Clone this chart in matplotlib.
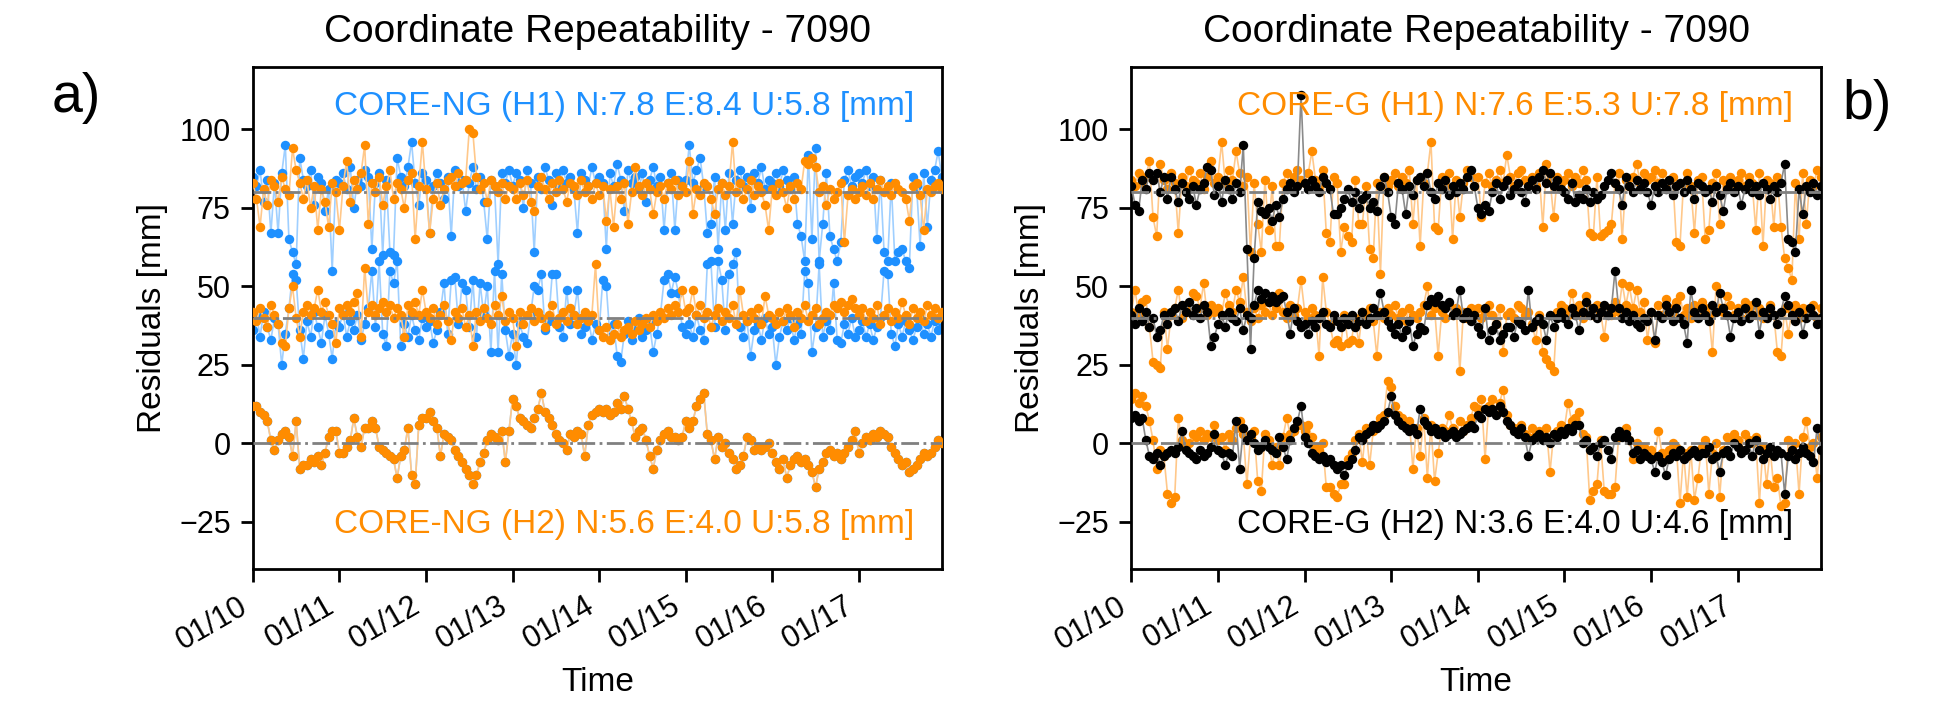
import numpy as np
import pandas as pd
import matplotlib
matplotlib.use("Agg")
import matplotlib.pyplot as plt
import matplotlib.dates as mdates
from matplotlib.ticker import MultipleLocator

plt.rcParams['font.family'] = ['Liberation Sans', 'DejaVu Sans']

# ---------------- data (hourly residuals, mm) ----------------
START = "2021-01-10 00:00"
TITLE = "Coordinate Repeatability - 7090"
LABEL_A_H1 = "CORE-NG (H1) N:7.8 E:8.4 U:5.8 [mm]"
LABEL_A_H2 = "CORE-NG (H2) N:5.6 E:4.0 U:5.8 [mm]"
LABEL_B_H1 = "CORE-G (H1) N:7.6 E:5.3 U:7.8 [mm]"
LABEL_B_H2 = "CORE-G (H2) N:3.6 E:4.0 U:4.6 [mm]"
OFFSETS = [80, 40, 0]  # N, E, U stacking offsets

# panel a) CORE-NG H1 (blue)
a_h1_n = [5, 2, 7, -3, 4, -13, 3, -13, 6, 15, -15, -19, -23, 11, 4, 2, 7, -4, 5, 3, -6, 1, -25, 4,
          3, 6, 1, 8, -5, 4, 2, 7, 5, -18, 3, 6, -20, 4, -19, -20, 11, 5, 2, 8, 16, 3, -4, 6,
          4, -13, 2, 6, 3, -2, 5, -14, 7, 2, 4, -6, 3, 8, 1, 5, -3, -15, 4, 2, -23, 6, 3, 7,
          2, 6, 4, -5, 7, 3, -19, 5, 1, 8, 4, -4, 6, 2, 7, 3, 5, 1, -13, 6, 4, 2, 8, 3,
          5, 3, -18, 6, 2, 9, 4, -6, 7, 3, 5, 1, 6, -3, 4, 8, 2, 5, -12, 3, 6, -12, 4, 2,
          4, 15, 3, 7, 11, 2, -13, -10, 5, -18, 3, -12, 6, -10, 4, 7, 2, 5, -5, 6, 3, 8, 1, 4,
          3, 6, 2, 7, 4, 1, 5, -10, -14, -22, 12, -15, 14, -22, -10, 6, -14, -18, -22, -16, 4, 7, 2, 5,
          6, 3, 7, 2, 5, -15, 4, -19, -22, 3, -22, -19, -18, -22, -24, 5, 2, -17, 6, -11, 4, 7, 13, 5]
a_h1_e = [-4, 1, -6, 2, -3, -7, 0, -2, -15, -5, 3, 14, 12, -4, -13, -1, -6, 2, -3, -8, 1, -5, -13, -2,
          -3, 2, -6, -1, -4, 1, -7, -2, 3, 15, -3, 18, -5, -9, 15, 11, 18, -9, -2, -6, 1, -4, -7, 0,
          -3, -1, -8, -4, 2, 11, -5, 12, 13, -2, 11, 9, -3, 12, -6, 11, 1, 10, -11, 15, -11, 14, -4, -12,
          -5, -15, -2, -6, -8, 1, 10, 9, 14, -4, -1, 14, 14, -3, -6, 9, -2, 1, 9, -5, -3, 0, -7, -2,
          -4, 12, 10, -6, -2, -12, -14, -5, -1, -7, -3, 0, -6, -4, -2, -11, -5, 1, 12, 14, 8, 13, 8, -3,
          -5, -2, -6, 1, -4, -7, 17, 18, -3, 18, 12, -4, 14, 17, 21, -3, -6, -1, -12, -4, -2, -7, 0, -5,
          -3, -15, -6, -1, -4, 0, -7, -2, -5, 15, 11, -11, -3, 17, -6, -1, -4, 11, -7, -8, -2, -5, 0, -6,
          -4, -1, -6, -2, -7, -3, 0, 15, 14, -5, -9, -2, -6, -1, -4, -7, -3, 0, -5, -2, -6, -1, -4, -3]
# U of H1 and H2 in panel a) coincide (blue is hidden under orange)
a_u = [12, 12, 10, 9, 7, 1, -2, 1, 3, 4, 2, -4, 7, -8, -7, -7, -5, -6, -4, -7, -3, 2, 4, 4,
       -3, -3, -1, 1, 8, 2, -1, 5, 5, 7, 5, -1, -2, -3, -4, -5, -11, -4, -2, 5, -10, -13, 6, 8,
       8, 10, 7, 5, -4, 3, 2, 1, -2, -4, -6, -8, -10, -13, -10, -6, -3, 1, 3, 2, 1, 4, -6, 4,
       14, 12, 8, 7, 6, 5, 8, 11, 16, 10, 8, 6, 3, 1, 0, -2, 3, 2, 4, 3, -4, 6, 9, 10,
       11, 10, 11, 9, 10, 13, 11, 15, 11, 7, 2, 4, 5, 1, -4, -8, -2, 1, 3, 4, 2, 2, 1, 2,
       7, 5, 7, 12, 14, 16, 3, 1, -5, 2, -1, 0, -3, -5, -8, -7, -4, 2, 1, -2, -1, -2, -1, 0,
       -3, -6, -8, -5, -11, -7, -5, -4, -6, -5, -7, -9, -14, -8, -6, -3, -2, -4, -3, -5, -3, -1, 1, 4,
       -3, 0, 2, 1, 3, 2, 4, 3, 2, -1, -3, -5, -7, -6, -9, -8, -7, -5, -3, -4, -3, -1, 1, 0]

# panel a) CORE-NG H2 (orange)
a_h2_n = [3, -2, -11, 1, -4, 4, 2, -3, 5, 1, -1, 14, 7, 3, -2, 4, -5, 2, -12, 1, -3, -11, 3, 0,
          -12, 2, 10, -3, 4, 1, 6, 15, -10, 3, 0, 5, -4, 2, 7, -2, 3, 1, -5, 4, 6, -15, 2, 16,
          1, -13, -2, 3, -4, 1, 4, 5, 2, 6, 3, 4, 20, 19, 5, 1, 3, -3, 4, 2, 0, 3, -2, 2,
          1, -2, 3, -1, 4, -3, -6, 2, 5, 1, -2, 3, 0, 4, 1, -3, 3, 2, -1, 4, 0, 2, -2, 3,
          -1, 2, -9, 1, -11, 2, -2, 3, -10, 0, 8, 2, -1, 3, 1, -7, 0, 2, -2, 3, 1, 4, -1, 2,
          0, 10, -7, 1, -1, 3, 2, -2, -7, 1, 3, -1, 2, 16, 0, 3, -2, 1, 4, -1, 2, 0, -4, -12,
          1, -1, 3, 0, -5, 2, -2, 3, 1, 10, 9, 11, 8, 0, 2, -4, 1, -2, 0, 3, -16, -1, 1, -2,
          0, 2, -1, 3, -2, 1, 4, 0, 2, -1, 3, 1, 0, -2, -9, 2, 3, -1, -12, 1, 0, 2, 3, 1]
a_h2_e = [2, -1, 3, 0, -3, 4, 1, -2, -8, -9, 3, 10, 0, -6, 2, 4, 1, 3, 9, 2, 5, 1, -2, -8,
          3, 1, 4, 2, 5, 8, -6, 16, 2, 4, 1, 3, 5, 2, 4, 0, 3, 1, -6, 4, 2, 5, 1, 9,
          2, 0, 3, -2, 1, 4, -1, -7, 2, 0, 3, -3, 1, -9, 2, -1, 3, 0, -2, 4, 1, 7, -1, 2,
          0, -9, 2, -2, 1, 3, -1, 2, 0, -3, 1, 4, -2, 0, 2, -1, 3, 1, -2, 0, 2, -1, 1, 17,
          -4, -6, -3, -7, -5, -2, -6, -4, -3, -5, -1, -4, -2, 0, -3, 1, -1, 2, 0, 3, 1, 4, 2, 9,
          2, 3, 9, 1, 4, 0, 2, -3, 1, 3, -1, 2, 0, 4, -2, 9, 1, -1, 2, 0, 3, -2, 7, 1,
          0, -2, 2, -1, 3, 1, -3, 2, 0, 4, -1, 1, 3, -2, 0, 2, 1, 4, 3, 5, 2, 4, 6, 3,
          1, 3, -1, 2, 0, 4, -2, 1, 3, -1, 2, 0, 5, 1, -2, 3, 0, 2, -1, 4, 1, 3, 0, 2]

# panel b) CORE-G H1 (orange)
b_h1_n = [4, 2, 6, 3, 5, 10, -8, -14, 9, 4, 1, 6, 3, -13, 5, 2, 7, 4, 3, 6, 1, 5, 10, 3,
          5, 16, 3, 7, 4, 13, 6, 2, 5, -19, 3, -10, -19, 4, -12, 2, -17, -17, 3, 6, 2, 5, 7, 4,
          3, 6, 13, 4, 2, 7, -13, -16, 5, 3, -19, -11, -14, -16, 4, -10, -10, 2, -18, -21, 3, -26, 5, 2,
          4, 6, 2, 5, 3, 7, -10, 4, -17, 3, 6, 16, -11, -12, 5, 2, 6, -15, 4, -8, 3, 7, 5, 2,
          5, -8, 3, 6, 2, 4, 7, 3, 12, 5, 2, 6, 7, 4, 3, 5, 2, 6, -11, 9, 4, -8, 5, 3,
          4, 6, 2, 5, 3, 7, 4, -13, -14, 5, -14, -13, -12, -10, 3, 6, -15, 4, 2, 5, 9, 3, 6, 4,
          5, 7, 3, 6, 2, 4, 5, -16, -17, 3, 6, 2, -13, 4, 5, -15, -12, 3, 6, -10, 4, 2, 5, 3,
          4, 6, 2, 5, 3, -12, 6, -17, 4, 3, -11, 5, -11, -21, -24, -28, 3, -15, 6, -10, 4, 2, 7, 5]
b_h1_e = [2, 9, 1, 5, 6, -3, -14, -15, -16, 2, -10, 1, 3, 9, 0, 4, 2, 8, 7, 3, 11, 1, 4, 2,
          3, 1, 8, 4, 2, 9, 5, 13, 2, -1, 3, 0, 4, 2, 5, 1, 3, 8, 2, 0, 4, 1, 3, 12,
          2, 0, 3, 1, -12, 13, 2, -2, -8, -7, -9, 1, -8, -7, 0, -8, 2, 1, 3, -1, -12, 2, 0, 3,
          1, 4, 0, 2, -1, 3, 1, 0, 2, 4, 10, 1, 3, -12, 2, 0, 4, 1, 3, -17, 2, 0, 3, 1,
          3, 0, 2, 4, 1, -2, 3, -11, 1, 2, 0, 4, 3, 1, 2, -2, -7, 1, -11, -13, -15, -17, 2, 4,
          3, 1, 8, 2, 4, 0, 7, 3, 1, 4, 2, -6, 3, 1, 5, 2, 11, 4, 10, 3, 9, 2, 5, -7,
          2, -8, 4, 1, 6, 3, 2, 5, 7, 1, 3, 0, 4, 2, 5, 3, 1, -11, 10, 3, 2, 7, 4, 1,
          3, 0, 5, 2, 4, 1, 3, 0, 2, 4, 1, -11, -12, 3, -5, 2, 4, 0, 3, 1, 2, 4, 0, 3]
b_h1_u = [14, 16, 13, 15, 12, 7, 1, -8, -2, -4, -16, -19, -17, 8, 1, -1, 0, 3, 2, 4, 1, 3, 2, 6,
          1, 2, -2, 3, 1, 5, 7, 3, -13, 2, 4, -12, -15, 3, 1, -7, -1, -7, 2, 8, 3, 4, 6, 6,
          4, 6, 2, -1, -2, 0, -14, -14, -16, -17, -13, -13, -5, -3, 1, 3, -6, 5, -7, 4, 6, 8, 9, 20,
          18, 12, 9, 8, 6, 7, -8, 5, -4, 8, -11, 6, -12, -3, 5, 4, 9, 5, 3, 7, 4, 6, 8, 12,
          11, 14, -5, 12, 14, 10, 13, 17, 9, 6, 5, 4, 6, 3, 2, 5, 3, 4, 2, 5, -9, 3, 4, 6,
          5, 13, 7, 8, 10, 3, 2, -18, -15, -13, 1, -15, -16, -16, -14, 2, 3, 5, 1, -5, 0, -2, -1, -3,
          -2, -4, 4, -3, -5, -2, 0, -1, -19, -3, -17, -2, -18, -11, -1, 1, -16, -3, 0, -17, -2, 2, 1, 3,
          1, -2, 3, 1, 0, 2, -19, -1, -13, -2, -14, -11, -20, -19, 1, -2, 0, -16, 2, 7, -1, 0, -11, 2]

# panel b) CORE-G H2 (black)
b_h2_n = [2, -4, -6, 4, 1, 6, 4, 6, 0, 5, -2, 5, 1, -3, 3, 0, -2, 2, -4, 1, 3, 8, 7, -1,
          2, -3, 4, 1, -2, 3, 0, 15, -18, -50, -21, -3, -6, -7, -5, -9, -4, -8, -2, 1, 3, 0, 2, 31,
          3, 1, 4, 2, 0, 5, 3, 1, -7, -7, -5, -2, 1, -3, 0, -5, -2, -1, -5, -3, -6, 2, 5, 0,
          -8, -10, 3, 1, -7, 2, -1, 4, 5, 2, 6, 0, -2, 3, 1, 4, -1, 2, 0, 3, 1, 5, 7, 2,
          -5, -7, -4, -6, 0, 3, -2, 2, 4, -1, 1, 3, 0, -3, 2, 4, 1, 5, 7, 3, 6, 2, 4, 1,
          0, -2, 3, -3, -1, -2, 1, -3, 0, -2, -1, 2, 4, 6, 3, 1, -4, 5, 2, 0, 4, 1, 3, 0,
          -4, 2, 0, 3, 1, 4, -1, 2, 3, 0, 4, 1, -2, 3, 2, 0, 1, -3, 2, -1, -6, 1, 3, 0,
          2, -4, 1, 3, 0, 2, -1, 3, 1, -2, 2, 0, 3, 9, -15, -16, -19, 1, -7, 2, 0, 3, -1, 2]
b_h2_e = [1, -2, 3, -1, 2, -3, 0, -6, -4, 1, -2, 2, 3, -1, 4, 2, 5, 1, 3, 0, 4, 2, -9, -6,
          -2, 1, -3, 2, 0, -1, 3, -4, 1, 0, 4, 9, 6, 8, 5, 7, 5, 6, 7, 2, -5, 3, -1, -3,
          -2, -5, -1, -3, 0, 2, -2, -3, 1, -1, -3, 0, -2, 1, -3, -1, 2, -2, 0, 3, 1, 8, 2, -1,
          -3, -5, -2, -6, -4, -1, -9, -5, -3, -4, 4, 6, 5, 7, 4, 3, 5, 1, 2, 9, 0, 2, -1, 1,
          -3, -5, 3, -7, -4, -2, -7, -5, -3, -3, -6, -1, -2, -4, 9, -3, -1, 0, -2, -7, 1, -3, 0, 2,
          0, -2, 3, 1, -4, 2, 5, 1, 3, 0, 2, 4, 1, 3, 15, 3, 0, 2, -1, 1, -2, -3, 0, -1,
          2, -7, 1, 0, 4, 2, -1, 3, 0, -2, -8, 9, 2, 0, 3, 1, -1, 4, 2, 8, 3, 1, -6, 0,
          2, -1, 3, 0, 1, 5, -5, 2, 0, 3, 1, -2, 2, 7, 4, 1, -1, 2, -5, 0, 3, 1, -2, 0]
b_h2_u = [8, 9, 7, 8, 1, -4, -5, -3, -7, -4, -3, -2, -3, -1, 4, -2, -3, -4, -5, -2, -4, -3, -1, 3,
          -2, -3, -7, -3, -4, 7, -8, 5, 1, 3, 0, -2, -1, 1, -1, -2, -3, 2, -1, -5, 1, 5, 7, 12,
          2, 0, -3, -4, -5, -4, -6, -5, -7, -8, -7, -10, -7, -5, -2, 2, 1, 3, 4, 6, 5, 6, 7, 10,
          15, 9, 7, 6, 5, 4, 5, 3, 11, 7, 6, 4, 5, 3, 4, 2, 3, 4, 2, 3, 4, 5, 6, 5,
          9, 8, 11, 10, 11, 9, 12, 10, 7, 6, 4, 3, 5, 2, -4, 1, 2, 3, 1, 2, 0, 3, 2, 4,
          3, 5, 4, 6, 6, 0, 1, -2, -1, -4, 0, 1, -2, -5, 2, 4, 2, 3, 1, -3, -2, -5, -3, -4,
          -5, -9, -4, -6, -10, -5, -3, -4, -2, -5, -4, -3, -2, -4, -3, -3, -1, -5, -4, -9, -3, -2, -4, 0,
          -1, -3, -2, 0, -4, 1, -2, -5, -3, -1, -4, -2, -3, -16, -4, -2, -5, -3, -1, -3, -4, -6, 5, -2]

# ---------------- styling ----------------
BLUE = "#1E90FF"
BLUE_LINE = "#9FCFFF"
ORANGE = "#FF8C00"
ORANGE_LINE = "#FFC88A"
BLACK = "#000000"
BLACK_LINE = "#8A8A8A"
MS = 3.4


def times(vals):
    return pd.date_range(START, periods=len(vals), freq="h")


def draw_series(ax, comps, color, line_color, z):
    for vals, off in zip(comps, OFFSETS):
        t = times(vals)
        ax.plot(t, np.asarray(vals, dtype=float) + off, '-o', color=line_color, lw=0.6,
                mfc=color, mec=color, ms=MS, mew=0.0, zorder=z)


def style_axis(ax, t):
    for off in OFFSETS:
        ax.axhline(off, color="gray", ls="-.", lw=1.0, zorder=10)
    ax.set_ylim(-40, 120)
    ax.yaxis.set_major_locator(MultipleLocator(25))
    ax.set_xlim(t[0], t[-1])
    ax.xaxis.set_major_locator(mdates.DayLocator())
    ax.xaxis.set_major_formatter(mdates.DateFormatter("%m/%d"))
    for lab in ax.get_xticklabels():
        lab.set_rotation(30)
        lab.set_ha("right")
    ax.tick_params(labelsize=11, length=4.5, width=1.0)
    for sp in ax.spines.values():
        sp.set_linewidth(1.0)
    ax.set_xlabel("Time", fontsize=12)
    ax.set_ylabel("Residuals [mm]", fontsize=12)
    ax.set_title(TITLE, fontsize=14, pad=9)


fig = plt.figure(figsize=(9.725, 3.64), dpi=200)
ax_a = fig.add_axes([0.130, 0.2184, 0.3542, 0.690])
ax_b = fig.add_axes([0.5817, 0.2184, 0.3544, 0.690])

draw_series(ax_a, [a_h1_n, a_h1_e, a_u], BLUE, BLUE_LINE, 2)
draw_series(ax_a, [a_h2_n, a_h2_e, a_u], ORANGE, ORANGE_LINE, 3)
style_axis(ax_a, times(a_u))
ax_a.text(0.96, 0.92, LABEL_A_H1, transform=ax_a.transAxes, ha="right", va="center",
          color=BLUE, fontsize=12)
ax_a.text(0.96, 0.088, LABEL_A_H2, transform=ax_a.transAxes, ha="right", va="center",
          color=ORANGE, fontsize=12)

draw_series(ax_b, [b_h1_n, b_h1_e, b_h1_u], ORANGE, ORANGE_LINE, 2)
draw_series(ax_b, [b_h2_n, b_h2_e, b_h2_u], BLACK, BLACK_LINE, 3)
style_axis(ax_b, times(b_h2_u))
ax_b.text(0.96, 0.92, LABEL_B_H1, transform=ax_b.transAxes, ha="right", va="center",
          color=ORANGE, fontsize=12)
ax_b.text(0.96, 0.088, LABEL_B_H2, transform=ax_b.transAxes, ha="right", va="center",
          color=BLACK, fontsize=12)

fig.text(0.039, 0.865, "a)", fontsize=20, ha="center", va="center")
fig.text(0.960, 0.856, "b)", fontsize=20, ha="center", va="center")

fig.savefig("out.png", dpi=200)
